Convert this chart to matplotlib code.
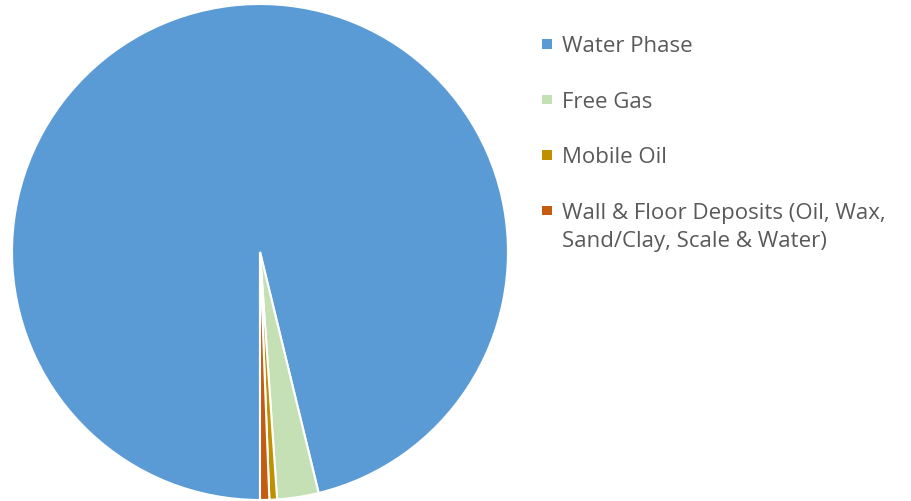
import matplotlib.pyplot as plt
from matplotlib.patches import Rectangle

labels = ["Water Phase", "Free Gas", "Mobile Oil",
          "Wall & Floor Deposits (Oil, Wax,\nSand/Clay, Scale & Water)"]
shares = [96.2, 2.7, 0.5, 0.6]
colors = ["#5B9BD5", "#C5E0B4", "#BF9000", "#C55A11"]

plt.rcParams["font.family"] = ["Open Sans", "DejaVu Sans"]

W, H = 912, 502
fig = plt.figure(figsize=(W / 100, H / 100), dpi=100)
ax = fig.add_axes([12 / W, 1 / H, 496 / W, 496 / H])

wedges, _ = ax.pie(shares, colors=colors, startangle=270, counterclock=False,
                   radius=1.0, wedgeprops=dict(edgecolor="white", linewidth=1.5))
ax.set_xlim(-1.0, 1.0)
ax.set_ylim(-1.0, 1.0)
ax.set_aspect("equal")
ax.axis("off")

# legend on the right, one square marker per slice, text aligned with the first line
row_y = 45          # pixel centre of the first row
row_step = 55.5
line_step = 28
box = 9.5
for i, (lab, col) in enumerate(zip(labels, colors)):
    yc = row_y + i * row_step
    fig.patches.append(Rectangle(((542) / W, 1 - (yc + box / 2) / H), box / W, box / H,
                                 transform=fig.transFigure, facecolor=col,
                                 edgecolor="none"))
    for j, line in enumerate(lab.split("\n")):
        base = yc + 7.5 + j * line_step
        fig.text(562 / W, 1 - base / H, line, fontsize=16, color="#595959",
                 ha="left", va="baseline")

fig.savefig("out.png", dpi=100)
